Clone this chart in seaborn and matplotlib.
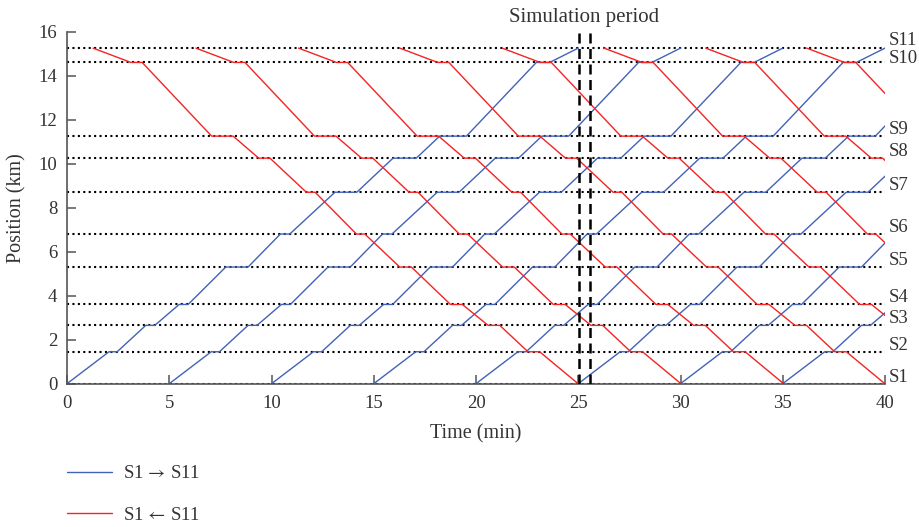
import pandas as pd
import matplotlib
matplotlib.use("Agg")
import matplotlib.pyplot as plt
import seaborn as sns

# stations and their positions (km)
stations = ["S1", "S2", "S3", "S4", "S5", "S6", "S7", "S8", "S9", "S10", "S11"]
station_km = [0, 1.45, 2.65, 3.6, 5.3, 6.8, 8.7, 10.25, 11.25, 14.6, 15.25]
label_shift = [0.3, 0.3, 0.3, 0.3, 0.3, 0.3, 0.3, 0.28, 0.3, 0.2, 0.34]

# S1 -> S11 run profile (min after departure from S1): arrival / departure at each station
up_arr = [0, 2.05, 3.85, 5.48, 7.76, 10.43, 13.1, 15.94, 18.22, 22.95, 25.0]
up_dep = [0, 2.45, 4.29, 5.92, 8.85, 10.89, 14.17, 17.08, 19.53, 23.6, 25.0]
up_starts = [0, 5, 10, 15, 20, 25, 30, 35]

# S11 -> S1 run profile (min after departure from S11), stations in order S11 ... S1
down_arr = [0, 1.85, 5.8, 8.1, 10.43, 12.88, 15.0, 17.48, 19.32, 21.27, 23.72]
down_dep = [0, 2.4, 6.85, 8.65, 10.86, 13.29, 15.57, 18.06, 19.89, 21.84, 23.72]
down_starts = [1.27, 6.3, 11.32, 16.27, 21.28, 26.26, 31.23, 36.17]

sim_period = [25.05, 25.55]

up_label = "S1$\\,\\rightarrow\\,$S11"
down_label = "S1$\\,\\leftarrow\\,$S11"

rows = []
for i, t0 in enumerate(up_starts):
    for km, a, d in zip(station_km, up_arr, up_dep):
        rows.append((up_label, f"u{i}", t0 + a, km))
        if d != a:
            rows.append((up_label, f"u{i}", t0 + d, km))
for i, t0 in enumerate(down_starts):
    for km, a, d in zip(station_km[::-1], down_arr, down_dep):
        rows.append((down_label, f"d{i}", t0 + a, km))
        if d != a:
            rows.append((down_label, f"d{i}", t0 + d, km))
df = pd.DataFrame(rows, columns=["direction", "train", "time", "km"])

sns.set_theme(style="ticks")
plt.rcParams["font.family"] = ["Liberation Serif", "DejaVu Serif"]
plt.rcParams["mathtext.fontset"] = "stix"
txt = "#333333"
plt.rcParams["text.color"] = txt
plt.rcParams["axes.labelcolor"] = txt
plt.rcParams["xtick.color"] = txt
plt.rcParams["ytick.color"] = txt

fig, ax = plt.subplots(figsize=(9.19, 5.27), dpi=100)
fig.subplots_adjust(left=0.073, right=0.963, bottom=0.272, top=0.940)

ax.hlines(station_km, 0, 40, colors="black", linestyles=(0, (1, 1.6)), lw=1.5, zorder=1)

sns.lineplot(data=df, x="time", y="km", hue="direction", units="train",
             estimator=None, sort=False, lw=1.0, ax=ax,
             palette={up_label: "#4262B8", down_label: "#F52323"})

ax.vlines(sim_period, 0, 16, colors="black", linestyles=(0, (4, 2.2)), lw=1.8, zorder=3)
ax.text(25.3, 16.62, "Simulation period", ha="center", va="center", fontsize=15)

for name, km, dy in zip(stations, station_km, label_shift):
    ax.text(40.2, km + dy, name, ha="left", va="center", fontsize=13.5, clip_on=False)

ax.set_xlim(0, 40)
ax.set_ylim(0, 16)
ax.set_xticks(range(0, 41, 5))
ax.set_yticks(range(0, 17, 2))
ax.tick_params(direction="in", length=6.5, width=1.1, colors="#555555",
               labelcolor=txt, labelsize=13.5)
ax.tick_params(axis="x", pad=8)
ax.tick_params(axis="y", pad=7)
sns.despine(ax=ax)
for s in ["left", "bottom"]:
    ax.spines[s].set_color("#555555")
    ax.spines[s].set_linewidth(1.2)

ax.set_xlabel("Time (min)", fontsize=14.5, labelpad=9)
ax.set_ylabel("Position (km)", fontsize=14.5, labelpad=9)

handles, labels = ax.get_legend_handles_labels()
keep = [(h, l) for h, l in zip(handles, labels) if l in (up_label, down_label)]
ax.legend([h for h, _ in keep], [l for _, l in keep], loc="upper left",
          bbox_to_anchor=(67 / 919, 1 - 465 / 527), bbox_transform=fig.transFigure,
          frameon=False, fontsize=13.5, handlelength=2.4, handletextpad=0.6,
          labelspacing=1.32, borderpad=0, borderaxespad=0)

fig.savefig("out.png", dpi=100)
